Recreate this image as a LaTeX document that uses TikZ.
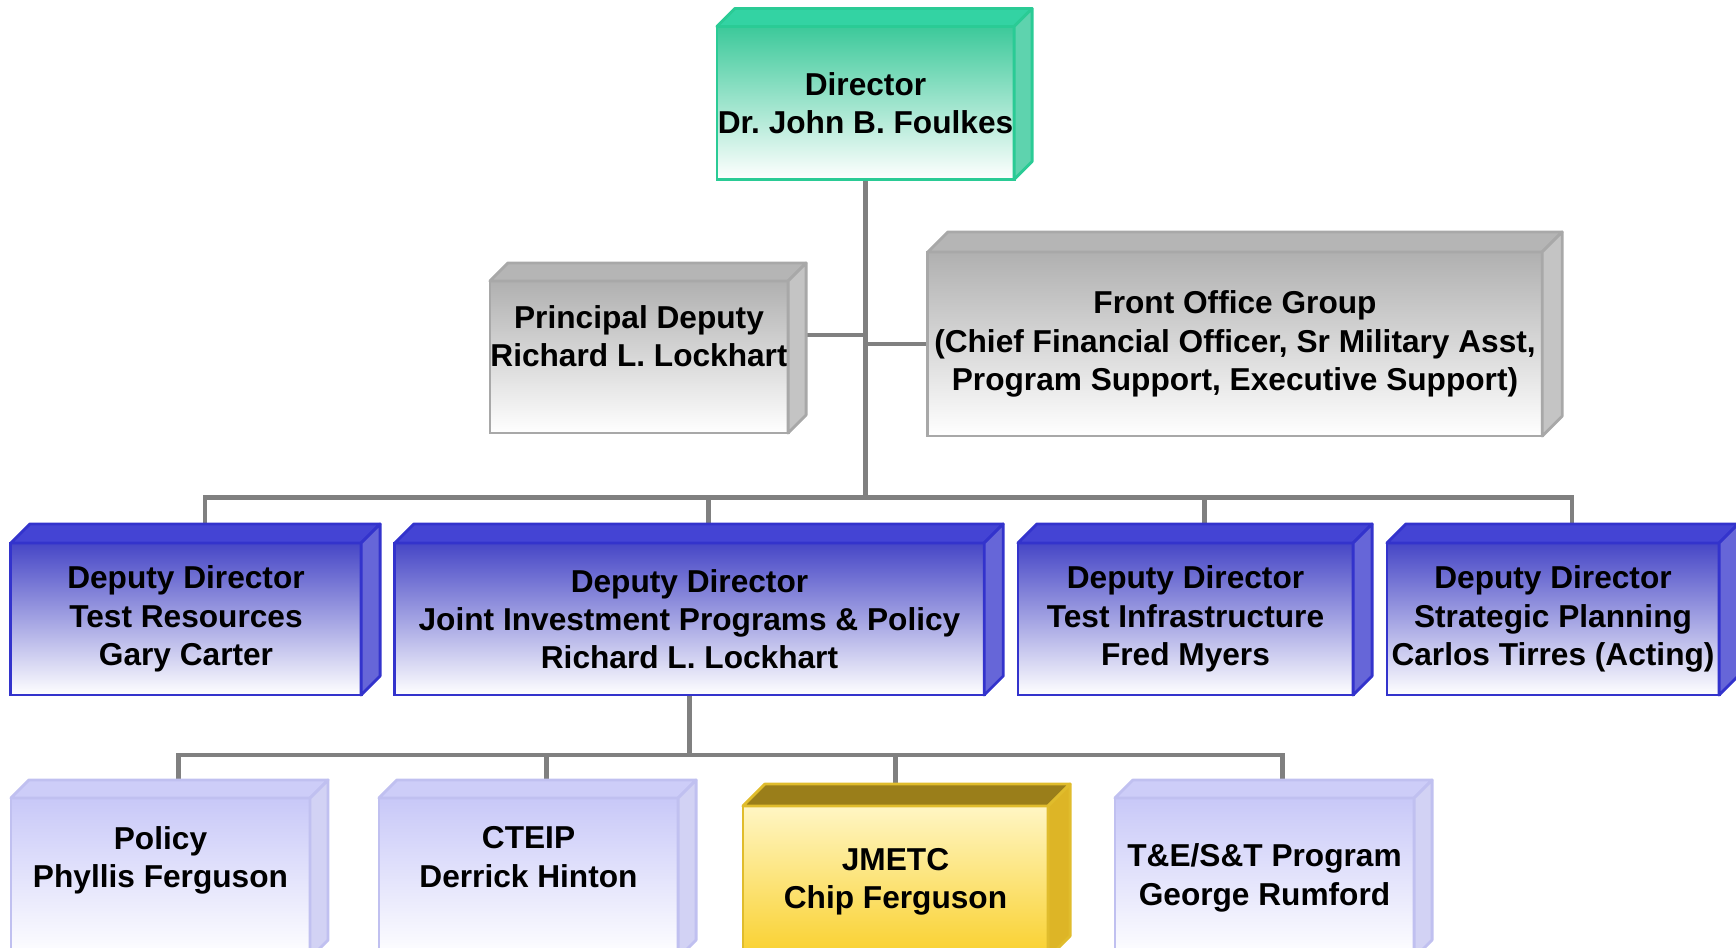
\documentclass[tikz,border=0pt]{standalone}
\usepackage{fontspec}
\setmainfont{Liberation Sans}
\definecolor{dirE}{HTML}{2ACB95}\definecolor{dirT}{HTML}{33D3A3}\definecolor{dirS}{HTML}{5ED3AE}\definecolor{dirF}{HTML}{3CC99A}
\definecolor{gryE}{HTML}{A8A8A8}\definecolor{gryT}{HTML}{B5B5B5}\definecolor{gryS}{HTML}{C4C4C4}\definecolor{gryF}{HTML}{B0B0B0}
\definecolor{depE}{HTML}{3333CC}\definecolor{depT}{HTML}{4444D4}\definecolor{depS}{HTML}{6666D8}\definecolor{depF}{HTML}{4646C6}
\definecolor{subE}{HTML}{C0C0F0}\definecolor{subT}{HTML}{CDCDF8}\definecolor{subS}{HTML}{D2D2F4}\definecolor{subF}{HTML}{C8C8F8}
\definecolor{jmE}{HTML}{E0BC2C}\definecolor{jmT}{HTML}{9A7E1A}\definecolor{jmS}{HTML}{DDB526}\definecolor{jmF}{HTML}{FFF6C4}\definecolor{jmB}{HTML}{F9D02C}
\definecolor{linkgray}{HTML}{808080}
\tikzset{%
unit/.style={draw, line width=0.8pt, inner sep=0pt, outer sep=0pt, align=center,
             font=\fontsize{9pt}{10.9pt}\selectfont\bfseries\frenchspacing},
dirbox/.style={unit, draw=dirE, top color=dirF, bottom color=white},
grybox/.style={unit, draw=gryE, top color=gryF, bottom color=white},
depbox/.style={unit, draw=depE, top color=depF, bottom color=white},
subbox/.style={unit, draw=subE, top color=subF, bottom color=white},
jmbox/.style={unit, draw=jmE, top color=jmF, bottom color=jmB},
raised/.style={text depth=12pt},
link/.style={draw=linkgray, line width=1.3pt}
}
\pgfdeclarelayer{background}
\pgfsetlayers{background,main}
\begin{document}
\begin{tikzpicture}[x=0.01cm, y=-0.01cm]
\clip (0,0) rectangle (1736,947);
\node[dirbox, minimum width=2.97cm, minimum height=1.53cm]          (dir)    at (865.5,103)   {Director\\Dr. John B. Foulkes};
\node[grybox, raised, minimum width=2.98cm, minimum height=1.52cm]  (prdep)  at (639,357)     {Principal Deputy\\Richard L. Lockhart};
\node[grybox, minimum width=6.14cm, minimum height=1.84cm]          (front)  at (1235,344)    {Front Office Group\\(Chief Financial Officer, Sr Military Asst,\\Program Support, Executive Support)};
\node[depbox, minimum width=3.50cm, minimum height=1.52cm]          (ddres)  at (186,619)     {Deputy Director\\Test Resources\\Gary Carter};
\node[depbox, minimum width=5.89cm, minimum height=1.52cm]          (ddjip)  at (689.5,619)   {Deputy Director\\Joint Investment Programs \& Policy\\Richard L. Lockhart};
\node[depbox, minimum width=3.35cm, minimum height=1.52cm]          (ddinf)  at (1185.5,619)  {Deputy Director\\Test Infrastructure\\Fred Myers};
\node[depbox, minimum width=3.32cm, minimum height=1.52cm]          (ddplan) at (1553,619)    {Deputy Director\\Strategic Planning\\Carlos Tirres (Acting)};
\node[subbox, raised, minimum width=2.99cm, minimum height=1.60cm]  (policy) at (160.5,878)   {Policy\\Phyllis Ferguson};
\node[subbox, raised, minimum width=2.99cm, minimum height=1.60cm]  (cteip)  at (528.5,878)   {CTEIP\\Derrick Hinton};
\node[jmbox, minimum width=3.05cm, minimum height=1.52cm]           (jmetc)  at (895.5,882)   {JMETC\\Chip Ferguson};
\node[subbox, minimum width=2.99cm, minimum height=1.60cm]          (tess)   at (1264.5,878)  {T\&E/S\&T Program\\George Rumford};

% top and side faces
\foreach \n/\d/\k in {dir/18/dir, prdep/18/gry, front/20/gry,
                      ddres/19/dep, ddjip/19/dep, ddinf/19/dep, ddplan/19/dep,
                      policy/18/sub, cteip/18/sub, jmetc/22/jm, tess/18/sub}
{
  \filldraw[draw=\k E, fill=\k T, line width=0.8pt, line join=round]
    (\n.north west) -- ([shift={(\d,-\d)}]\n.north west) -- ([shift={(\d,-\d)}]\n.north east) -- (\n.north east) -- cycle;
  \filldraw[draw=\k E, fill=\k S, line width=0.8pt, line join=round]
    (\n.north east) -- ([shift={(\d,-\d)}]\n.north east) -- ([shift={(\d,-\d)}]\n.south east) -- (\n.south east) -- cycle;
}

\begin{pgfonlayer}{background}
\path (dir.south) ++(0,318) coordinate (bus);
\draw[link] (dir.south) -- (bus);
\foreach \n/\dx in {ddres/19, ddjip/19, ddinf/19, ddplan/19}
  \draw[link] (bus) -| ([shift={(\dx,0)}]\n.north);
\path (prdep.east) ++(0,-22) coordinate (pdjoin);
\draw[link] (pdjoin) -- (pdjoin -| dir.south);
\draw[link] (front.west) -- (front.west -| dir.south);
\path (ddjip.south) ++(0,60) coordinate (bus2);
\draw[link] (ddjip.south) -- (bus2);
\foreach \n/\dx in {policy/18, cteip/18, jmetc/0, tess/18}
  \draw[link] (bus2) -| ([shift={(\dx,0)}]\n.north);
\end{pgfonlayer}
\end{tikzpicture}
\end{document}
